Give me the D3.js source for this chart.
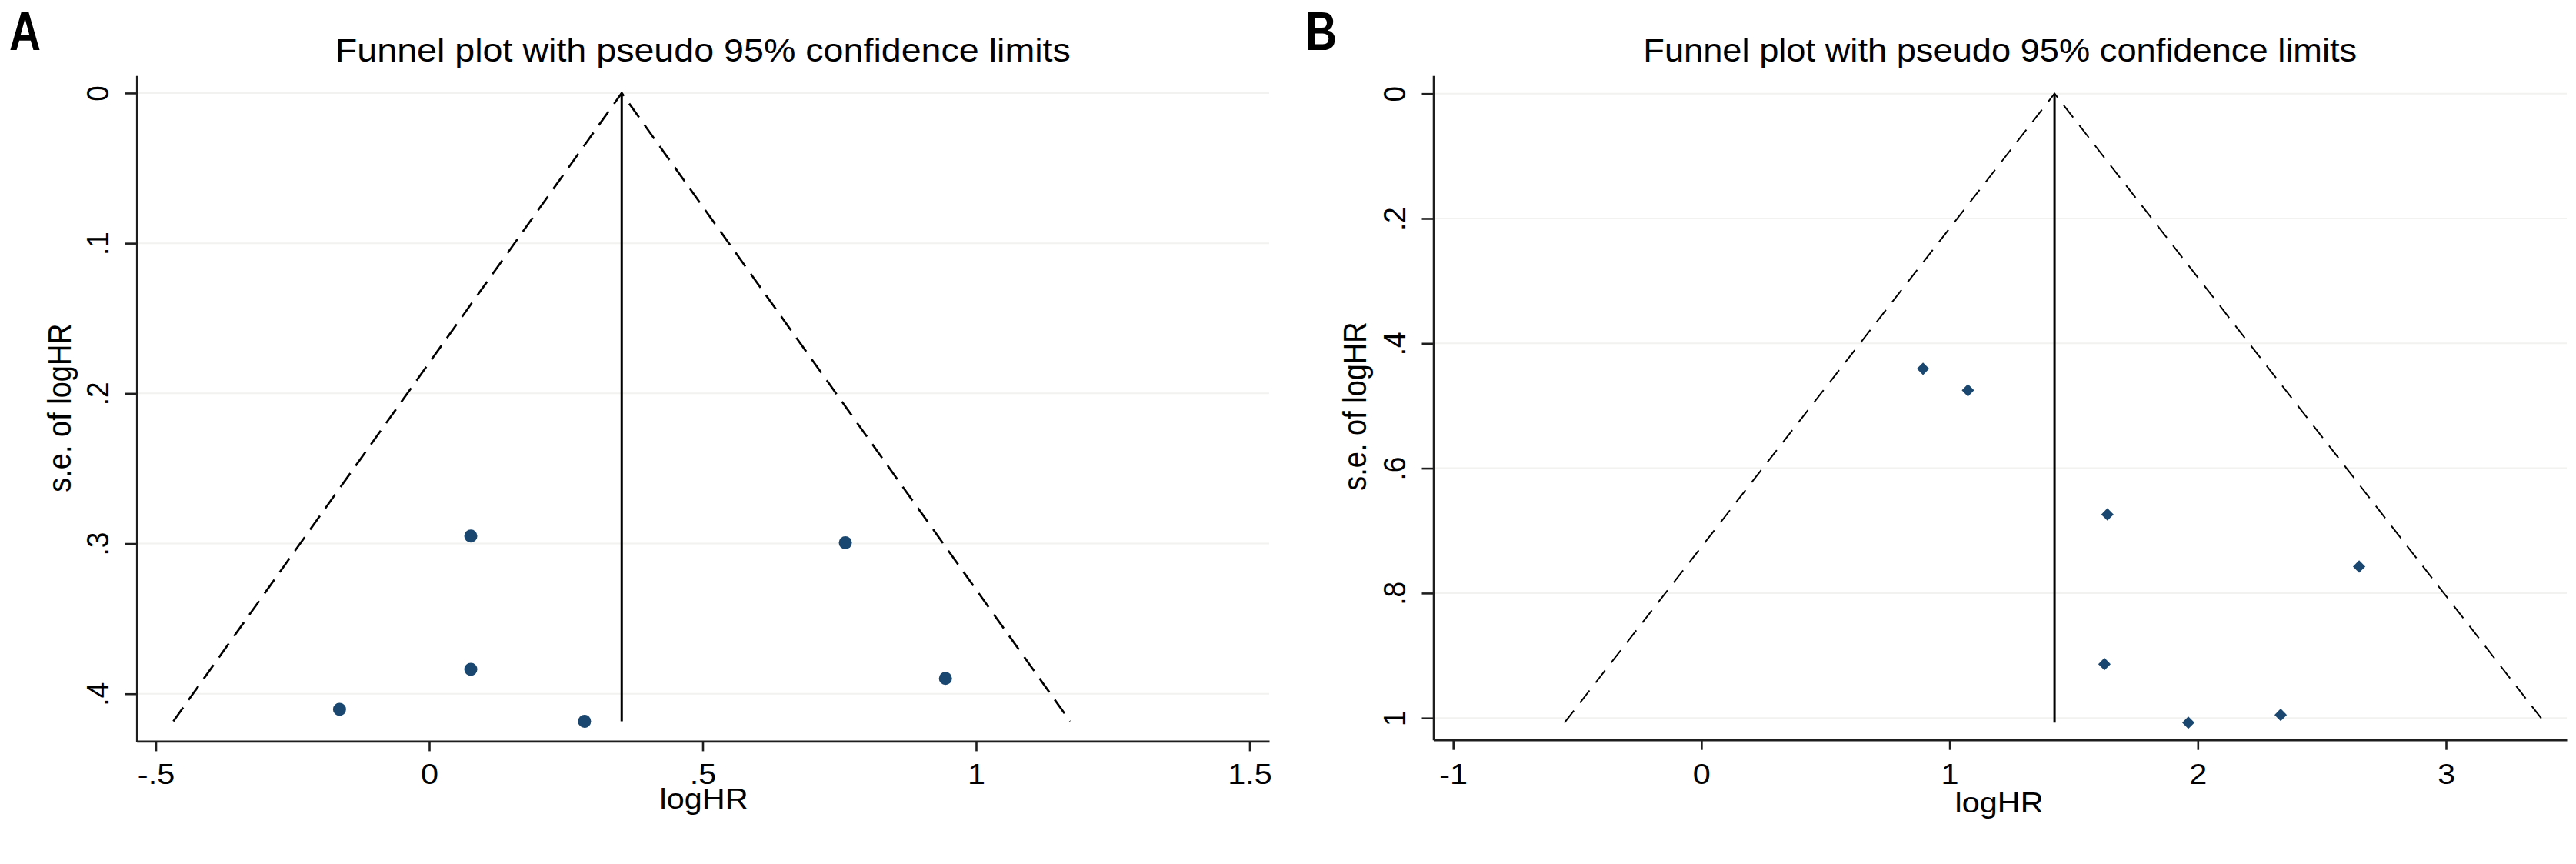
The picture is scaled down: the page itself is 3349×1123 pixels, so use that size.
<!DOCTYPE html>
<html>
<head>
<meta charset="utf-8">
<script src="https://cdn.jsdelivr.net/npm/d3@7"></script>
<style>
  html, body { margin: 0; padding: 0; background: #fff; }
  svg { display: block; }
  text { font-family: "Liberation Sans", Arial, sans-serif; fill: #000; }
</style>
</head>
<body>
<svg id="chart" width="3349" height="1123"></svg>
<script>
// Panel A : logHR against its standard error
const logHR_A = [0.076, 0.761, 0.076, 0.944, -0.164, 0.284];
const seLogHR_A = [0.295, 0.2995, 0.3838, 0.3898, 0.4104, 0.4183];
const pooledA = 0.352;
const xTicksA = [-0.5, 0, 0.5, 1, 1.5];
const xTickLabelsA = ["-.5", "0", ".5", "1", "1.5"];
const yTicksA = [0, 0.1, 0.2, 0.3, 0.4];
const yTickLabelsA = ["0", ".1", ".2", ".3", ".4"];

// Panel B
const logHR_B = [0.893, 1.074, 1.636, 2.650, 1.624, 1.962, 2.334];
const seLogHR_B = [0.4407, 0.4752, 0.674, 0.7575, 0.9137, 1.0075, 0.995];
const pooledB = 1.423;
const xTicksB = [-1, 0, 1, 2, 3];
const xTickLabelsB = ["-1", "0", "1", "2", "3"];
const yTicksB = [0, 0.2, 0.4, 0.6, 0.8, 1];
const yTickLabelsB = ["0", ".2", ".4", ".6", ".8", "1"];

const title = "Funnel plot with pseudo 95% confidence limits";
const markerColor = "#1a476f";
const sx = 1.12; // the original picture is a bit wider than tall

var svg = d3.select("#chart");

// one funnel plot
function drawFunnel(p) {
    var x = d3.scaleLinear().domain(p.xDomain).range(p.xRange);
    var y = d3.scaleLinear().domain(p.yDomain).range(p.yRange);
    var g = svg.append("g");

    // faint grid lines at y ticks
    g.append("g")
        .selectAll("line")
        .data(p.yTicks)
        .join("line")
        .attr("x1", p.xRange[0]).attr("x2", p.xRange[1])
        .attr("y1", d => y(d)).attr("y2", d => y(d))
        .attr("stroke", "#f2f2f0")
        .attr("stroke-width", 2);

    // x axis
    var gx = g.append("g")
        .attr("transform", "translate(0," + p.yRange[1] + ")")
        .call(d3.axisBottom(x)
            .tickValues(p.xTicks)
            .tickFormat((d, i) => p.xTickLabels[i])
            .tickSizeInner(13)
            .tickSizeOuter(0));
    gx.attr("font-size", null).attr("font-family", null);
    gx.selectAll(".tick text")
        .attr("y", null).attr("dy", null)
        .attr("transform", "translate(0," + p.xLabelDy + ") scale(" + sx + ",1)")
        .style("font-size", "37px");

    // y axis, labels turned like Stata does
    var gy = g.append("g")
        .attr("transform", "translate(" + p.xRange[0] + ",0)")
        .call(d3.axisLeft(y)
            .tickValues(p.yTicks)
            .tickFormat((d, i) => p.yTickLabels[i])
            .tickSizeInner(15)
            .tickSizeOuter(0));
    gy.attr("font-size", null).attr("font-family", null);
    gy.selectAll(".tick text")
        .attr("x", null).attr("dy", null)
        .attr("text-anchor", "middle")
        .attr("transform", "translate(-37,0) scale(" + sx + ",1) rotate(-90)")
        .style("font-size", "37px");

    g.selectAll(".domain, .tick line")
        .attr("stroke", "#1e1e1e")
        .attr("stroke-width", 2.6);

    // funnel: pooled estimate and pseudo 95% limits
    var seMax = d3.max(p.se);
    var line = d3.line().x(d => x(d[0])).y(d => y(d[1]));
    g.append("path")
        .attr("d", line([[p.pooled - 1.96 * seMax, seMax], [p.pooled, 0], [p.pooled + 1.96 * seMax, seMax]]))
        .attr("fill", "none")
        .attr("stroke", "#000")
        .attr("stroke-width", p.dashWidth)
        .attr("stroke-dasharray", p.dash);
    g.append("path")
        .attr("d", line([[p.pooled, 0], [p.pooled, seMax]]))
        .attr("stroke", "#000")
        .attr("stroke-width", 3);

    // studies
    var pts = p.est.map((v, i) => [v, p.se[i]]);
    if (p.marker === "circle") {
        g.append("g").selectAll("circle")
            .data(pts)
            .join("circle")
            .attr("cx", d => x(d[0]))
            .attr("cy", d => y(d[1]))
            .attr("r", 8.5)
            .attr("fill", markerColor);
    } else {
        g.append("g").selectAll("path")
            .data(pts)
            .join("path")
            .attr("d", d3.symbol(d3.symbolSquare, 130))
            .attr("transform", d => "translate(" + x(d[0]) + "," + y(d[1]) + ") rotate(45)")
            .attr("fill", markerColor);
    }

    // title
    var cx = (p.xRange[0] + p.xRange[1]) / 2;
    g.append("text")
        .attr("x", cx).attr("y", 80)
        .attr("text-anchor", "middle")
        .attr("textLength", p.titleWidth)
        .attr("lengthAdjust", "spacingAndGlyphs")
        .style("font-size", "43px")
        .text(title);

    // axis titles
    g.append("text")
        .attr("text-anchor", "middle")
        .attr("transform", "translate(" + p.xTitlePos + ") scale(" + sx + ",1)")
        .style("font-size", "37px")
        .text("logHR");
    g.append("text")
        .attr("text-anchor", "middle")
        .attr("transform", "translate(" + p.yTitlePos + ") scale(" + sx + ",1) rotate(-90)")
        .style("font-size", "38px")
        .text("s.e. of logHR");

    // panel letter
    g.append("text")
        .attr("transform", "translate(" + p.letterPos + ") scale(0.8,1)")
        .style("font-size", "71px")
        .style("font-weight", "bold")
        .text(p.letter);
}

drawFunnel({
    letter: "A", letterPos: [12, 65],
    est: logHR_A, se: seLogHR_A, pooled: pooledA,
    xTicks: xTicksA, xTickLabels: xTickLabelsA,
    yTicks: yTicksA, yTickLabels: yTickLabelsA,
    xDomain: [-0.5349, 1.5359], xRange: [177.7, 1650],
    yDomain: [-0.0116, 0.4316], yRange: [98.3, 963.4],
    xLabelDy: 56, titleWidth: 956,
    xTitlePos: [915, 1051], yTitlePos: [92, 530],
    marker: "circle", dash: "22,12", dashWidth: 2.7
});

drawFunnel({
    letter: "B", letterPos: [1697, 65],
    est: logHR_B, se: seLogHR_B, pooled: pooledB,
    xTicks: xTicksB, xTickLabels: xTickLabelsB,
    yTicks: yTicksB, yTickLabels: yTickLabelsB,
    xDomain: [-1.0796, 3.4865], xRange: [1863.5, 3337],
    yDomain: [-0.0288, 1.0351], yRange: [98.3, 961.7],
    xLabelDy: 57, titleWidth: 928,
    xTitlePos: [2599, 1056], yTitlePos: [1776, 528],
    marker: "diamond", dash: "20,13", dashWidth: 2
});
</script>
</body>
</html>
